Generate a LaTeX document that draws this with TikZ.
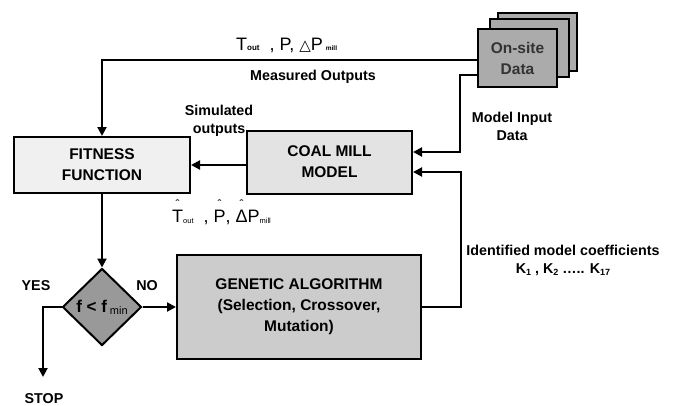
\documentclass[tikz,border=0pt]{standalone}
\usepackage{fontspec}
\setmainfont{Liberation Sans}
\newfontfamily\djv{DejaVu Sans}
\usetikzlibrary{shapes.geometric,arrows.meta}
\newcommand\hatit[1]{\ooalign{#1\cr\hidewidth\raisebox{14pt}{\fontsize{12}{12}\selectfont ˆ}\hidewidth\cr}}
\tikzset{
  box/.style={draw=black, line width=2pt, align=center, inner sep=0pt,
    font=\fontsize{15.5}{21}\selectfont\bfseries},
  arr/.style={line width=2pt, -{Triangle[length=9pt,width=9pt]}},
  lbl/.style={inner sep=0pt, align=center, font=\fontsize{14.3}{18}\selectfont\bfseries},
}
\begin{document}
\begin{tikzpicture}[x=1pt,y=-1pt]
\useasboundingbox (0,0) rectangle (673,405);
% boxes
\node[box, fill=black!6, minimum width=176pt, minimum height=56pt] (fit) at (102,165) {FITNESS\\FUNCTION};
\node[box, fill=black!11, minimum width=165pt, minimum height=63pt] (coal) at (329.5,162) {COAL MILL\\MODEL};
\node[box, fill=black!20, minimum width=244pt, minimum height=104pt] (ga) at (299,307) {GENETIC ALGORITHM\\(Selection, Crossover,\\Mutation)};
\node[box, fill=black!33, minimum width=79pt, minimum height=58pt] (os3) at (537.5,42) {};
\node[box, fill=black!33, minimum width=79pt, minimum height=58pt] (os2) at (529,48) {};
\node[box, fill=black!33, text=black!80, minimum width=79pt, minimum height=58pt] (onsite) at (517.5,58) {On-site\\Data};
\node[draw=black, line width=2pt, diamond, fill=black!40, minimum width=79pt, minimum height=77pt, inner sep=0pt] (dia) at (102,307)
  {\fontsize{17}{17}\selectfont\bfseries f < f\,\raisebox{-2pt}{\fontsize{11}{11}\selectfont\mdseries min}};
% coordinates
\coordinate (mib) at (460,75);
\coordinate (gab) at (461,307);
\coordinate (stp) at (43,377);
% connectors
\draw[arr] ([yshift=-2pt]onsite.west) -| (fit.north);
\draw[arr] ([yshift=-17pt]onsite.west) -- (mib) |- ([yshift=10pt]coal.east);
\draw[arr] (coal.west |- fit.east) -- (fit.east);
\draw[arr] (fit.south) -- (dia.north);
\draw[arr] (dia.east) -- (ga.west);
\draw[arr] (ga.east) -- (gab) |- ([yshift=-10pt]coal.east);
\draw[arr] (dia.west) -| (stp);
% labels
\node[inner sep=0pt, anchor=base west] (tl) at (236,50)
  {\fontsize{18}{18}\selectfont T{\fontsize{8}{8}\selectfont\bfseries out}\ \ , P,\ {\djv\fontsize{15}{15}\selectfont △}P\,{\fontsize{6.5}{7}\selectfont\bfseries mill}};
\node[lbl, anchor=base] (meas) at (313,80) {Measured Outputs};
\node[lbl, anchor=base] (sim) at (219,133) {Simulated\\outputs};
\node[lbl, anchor=base] (mid) at (512,140) {Model Input\\Data};
\node[inner sep=0pt, anchor=base west] (hl) at (172,222)
  {\fontsize{18}{18}\selectfont \hatit{T}\raisebox{-1.5pt}{\fontsize{7.5}{8}\selectfont out}\ \ , \hatit{P}, \hatit{Δ}P\raisebox{-1.5pt}{\fontsize{7.5}{8}\selectfont mill}};
\node[lbl, anchor=base] (idc) at (563,273) {Identified model coefficients\\K{\fontsize{9}{9}\selectfont\raisebox{-2pt}{1}} , K{\fontsize{9}{9}\selectfont\raisebox{-2pt}{2}} ….. K{\fontsize{9}{9}\selectfont\raisebox{-2pt}{17}}};
\node[lbl, anchor=base] (yes) at (36,290) {YES};
\node[lbl, anchor=base] (no) at (147,290) {NO};
\node[lbl, anchor=base] (stop) at (44,403) {STOP};
\end{tikzpicture}
\end{document}
